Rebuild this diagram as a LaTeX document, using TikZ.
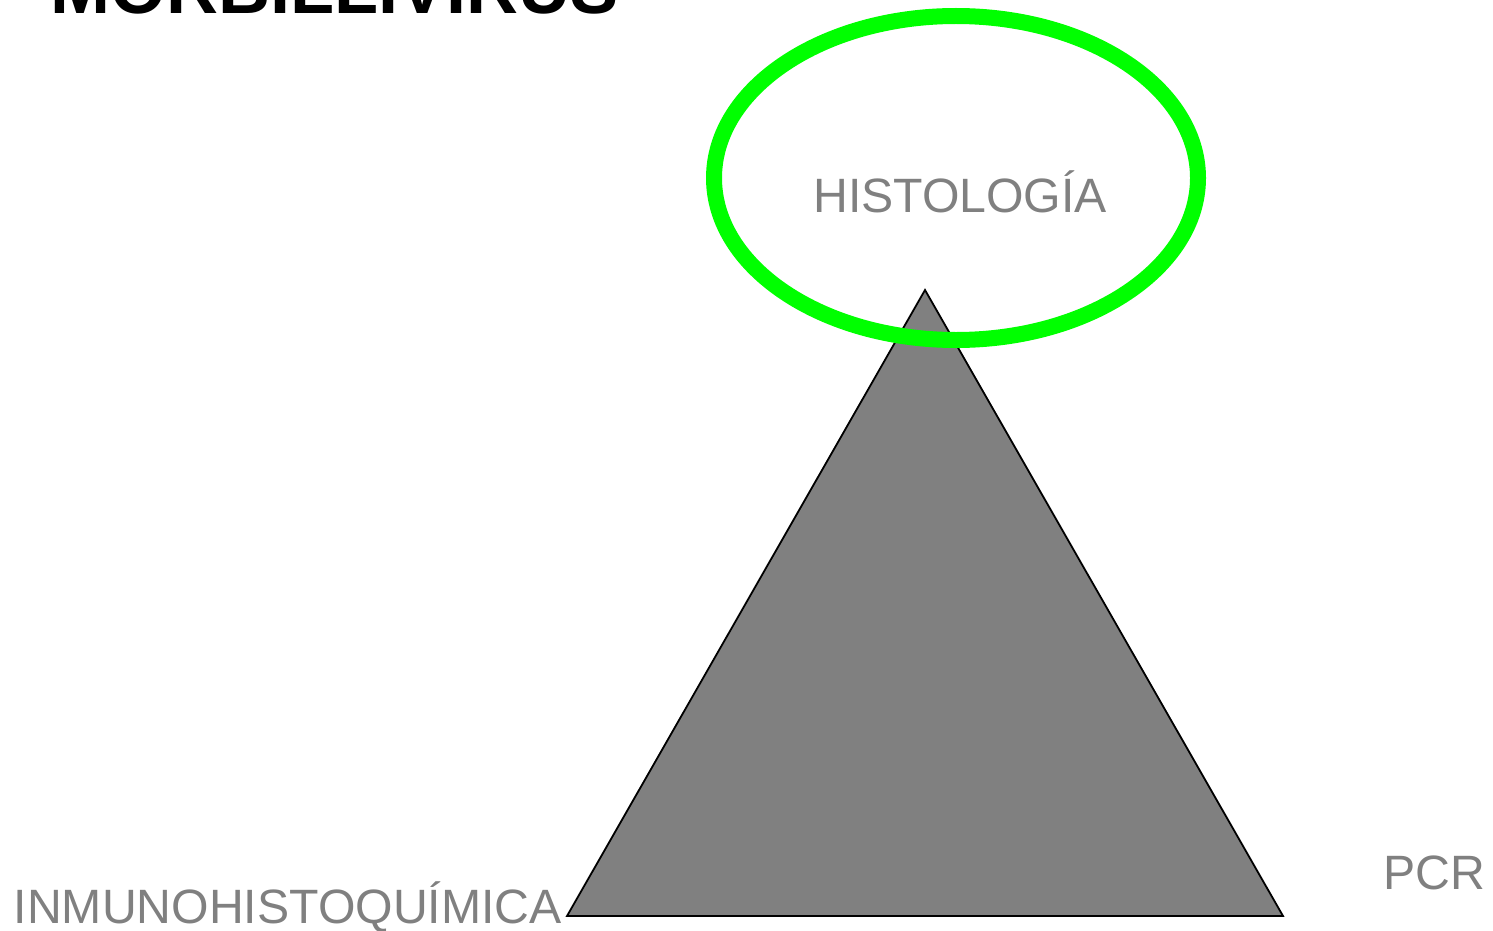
\documentclass[tikz,border=0pt]{standalone}
\usepackage{fontspec}
\setmainfont{Liberation Sans}
\definecolor{txtgray}{RGB}{128,128,128}
\definecolor{trifill}{RGB}{128,128,128}
\definecolor{ringgreen}{RGB}{0,255,0}
\tikzset{
  label text/.style={inner sep=0pt, anchor=base west, text=txtgray, font=\fontsize{48.2}{58}\selectfont},
  title text/.style={inner sep=0pt, anchor=base west, text=black, font=\fontsize{72}{86}\selectfont\bfseries},
  pyramid/.style={fill=trifill, draw=black, line width=1.8pt, line join=miter},
  ring/.style={draw=ringgreen, line width=16pt}
}
\begin{document}
\begin{tikzpicture}[x=1pt,y=-1pt]
\useasboundingbox (0,0) rectangle (1493,931);
\node[title text] (title) at (50,14) {MORBILLIVIRUS};
\coordinate (apex) at (925,290);
\coordinate (bl) at (567,916);
\coordinate (br) at (1283,916);
\draw[pyramid] (apex) -- (bl) -- (br) -- cycle;
\node[label text] (histo) at (813,212) {HISTOLOGÍA};
\node[label text] (ihq) at (13.5,923) {INMUNOHISTOQUÍMICA};
\node[label text] (pcr) at (1383,889) {PCR};
\draw[ring] (956,178) ellipse [x radius=242, y radius=162];
\end{tikzpicture}
\end{document}
